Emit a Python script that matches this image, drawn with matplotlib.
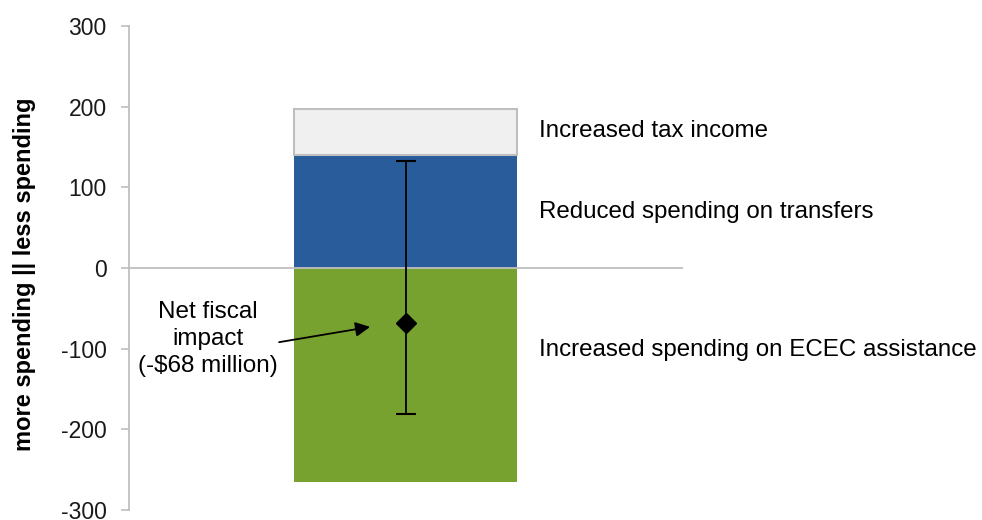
import matplotlib.pyplot as plt

# values in $ million
components = ["Increased tax income", "Reduced spending on transfers",
              "Increased spending on ECEC assistance"]
amounts = [57, 140, -265]
net_impact = -68
net_low = -181
net_high = 133
y_ticks = [-300, -200, -100, 0, 100, 200, 300]

plt.rcParams["font.family"] = ["Liberation Sans", "DejaVu Sans"]
plt.rcParams["axes.unicode_minus"] = False

fig = plt.figure(figsize=(9.82, 5.2), dpi=100)
ax = fig.add_axes([0.1314, 0.0192, 0.5638, 0.931])

tax, transfers, ecec = amounts
ax.bar(0, transfers, bottom=0, width=0.806, color="#285C9A", zorder=2)
ax.bar(0, tax, bottom=transfers, width=0.806, color="#F0F0F0",
       edgecolor="#BFBFBF", linewidth=1.5, zorder=2)
ax.bar(0, ecec, bottom=0, width=0.806, color="#78A22F", zorder=2)

ax.axhline(0, color="#BFBFBF", linewidth=1.3, zorder=3)

ax.errorbar([0], [net_impact],
            yerr=[[net_impact - net_low], [net_high - net_impact]],
            fmt="D", color="black", markersize=10, ecolor="black",
            elinewidth=1.3, capsize=7.5, capthick=1.5, zorder=4)

ax.text(-0.715, -88, "Net fiscal\nimpact\n(-$68 million)", fontsize=17.5,
        ha="center", va="center", linespacing=1.3)
ax.annotate("", xy=(-0.129, -73), xytext=(-0.458, -92),
            arrowprops=dict(arrowstyle="-|>", color="black", lw=1.3,
                            mutation_scale=22, shrinkA=0, shrinkB=0))

label_y = [170, 69, -102]
for name, ly in zip(components, label_y):
    ax.text(0.481, ly, name, fontsize=17.4, va="center", ha="left",
            clip_on=False)

ax.set_xlim(-1, 1)
ax.set_ylim(-300, 300)
ax.set_yticks(y_ticks)
ax.set_xticks([])
ax.tick_params(axis="y", length=6, width=1.2, color="#BFBFBF", pad=10,
               labelsize=16.5, labelcolor="#1a1a1a")
for side in ["top", "right", "bottom"]:
    ax.spines[side].set_visible(False)
ax.spines["left"].set_color("#BFBFBF")
ax.spines["left"].set_linewidth(1.3)
ax.set_ylabel("more spending || less spending", fontsize=17,
              fontweight="bold")
ax.yaxis.set_label_coords(-0.168, 0.4876)

fig.savefig("out.png", dpi=100)
